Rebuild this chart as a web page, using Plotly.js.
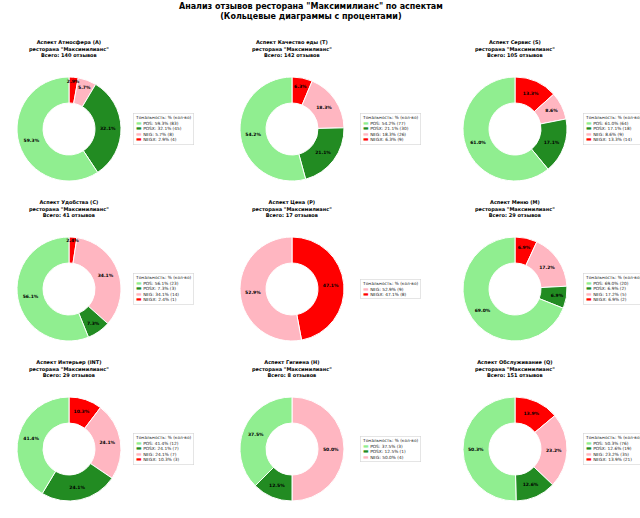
<!DOCTYPE html>
<html>
<head>
<meta charset="utf-8">
<script src="https://cdn.plot.ly/plotly-3.0.1.min.js"></script>
<style>
  html, body { margin: 0; padding: 0; background: #fff; }
  #chart { width: 640px; height: 518px; }
</style>
</head>
<body>
<div id="chart"></div>
<script>
// Review counts by sentiment for each aspect of the restaurant
const sentimentLabels = ['POS', 'POSX', 'NEG', 'NEGX'];
const sentimentColors = ['#90EE90', '#228B22', '#FFB6C1', '#FF0000'];

const aspectNames = [
  'Атмосфера (A)', 'Качество еды (T)', 'Сервис (S)',
  'Удобства (C)', 'Цена (P)', 'Меню (M)',
  'Интерьер (INT)', 'Гигиена (H)', 'Обслуживание (Q)'
];

// counts in order POS, POSX, NEG, NEGX
const countsAtmosphere = [83, 45, 8, 4];
const countsFood       = [77, 30, 26, 9];
const countsService    = [64, 18, 9, 14];
const countsFacilities = [23, 3, 14, 1];
const countsPrice      = [0, 0, 9, 8];
const countsMenu       = [20, 2, 5, 2];
const countsInterior   = [12, 7, 7, 3];
const countsHygiene    = [3, 1, 4, 0];
const countsStaff      = [76, 19, 35, 21];

const allCounts = [
  countsAtmosphere, countsFood, countsService,
  countsFacilities, countsPrice, countsMenu,
  countsInterior, countsHygiene, countsStaff
];

const restaurant = 'ресторана "Максимилианс"';
const legendTitle = 'Тональность: % (кол-во)';

// grid geometry (pixels)
const W = 640, H = 518;
const colCenters = [69, 292, 515];
const rowCenters = [129, 289, 449];
const legendLeft = [133, 360, 583];
const R = 52;
const FONT = 'DejaVu Sans, Liberation Sans, sans-serif';

const px = x => x / W;
const py = y => 1 - y / H;

const ringTraces = [];
const labelTraces = [];
const annotations = [];

allCounts.forEach((counts, i) => {
  const col = i % 3, row = Math.floor(i / 3);
  const cx = colCenters[col], cy = rowCenters[row];
  const labels = [], values = [], colors = [];
  counts.forEach((c, k) => {
    if (c > 0) {
      labels.push(sentimentLabels[k]);
      values.push(c);
      colors.push(sentimentColors[k]);
    }
  });
  const total = values.reduce((a, b) => a + b, 0);
  const domain = {
    x: [px(cx - R), px(cx + R)],
    y: [py(cy + R), py(cy - R)]
  };

  // slices run counterclockwise from 12 o'clock starting with POS,
  // i.e. clockwise from 12 o'clock in reversed order
  const base = {
    type: 'pie',
    labels: labels.slice().reverse(),
    values: values.slice().reverse(),
    sort: false,
    direction: 'clockwise',
    rotation: 0,
    hole: 0.5,
    hoverinfo: 'none',
    showlegend: false,
    domain: domain
  };

  // coloured ring
  ringTraces.push(Object.assign({}, base, {
    marker: { colors: colors.slice().reverse(), line: { color: '#ffffff', width: 1 } },
    textinfo: 'none'
  }));

  // transparent copy on top carrying the percentage labels,
  // so no slice covers the text of a neighbour
  labelTraces.push(Object.assign({}, base, {
    marker: { colors: labels.map(() => 'rgba(0,0,0,0)'), line: { width: 0 } },
    textposition: 'inside',
    insidetextorientation: 'horizontal',
    texttemplate: '<b>%{percent:.1%}</b>',
    textfont: { family: FONT, size: 4.5, color: '#000000' }
  }));

  // subplot heading
  annotations.push({
    xref: 'paper', yref: 'paper',
    x: px(cx), y: py(cy - 90),
    xanchor: 'center', yanchor: 'top',
    showarrow: false, borderpad: 0, borderwidth: 0,
    align: 'center',
    font: { family: FONT, size: 5, color: '#000000' },
    text: '<b>Аспект ' + aspectNames[i] + '<br>' + restaurant +
          '<br>Всего: ' + total + ' отзывов</b>'
  });

  // legend box
  const lines = [legendTitle];
  labels.forEach((lab, k) => {
    const pct = (values[k] / total * 100).toFixed(1);
    lines.push('<span style="color:' + colors[k] + ';font-size:6px">▬</span> ' +
               lab + ': ' + pct + '% (' + values[k] + ')');
  });
  annotations.push({
    xref: 'paper', yref: 'paper',
    x: px(legendLeft[col]), y: py(cy),
    xanchor: 'left', yanchor: 'middle',
    showarrow: false, align: 'left',
    bgcolor: '#ffffff', bordercolor: '#d4d4d4', borderwidth: 0.6, borderpad: 1.5,
    font: { family: FONT, size: 4.3, color: '#222222' },
    text: lines.join('<br>')
  });
});

// main heading
annotations.push({
  xref: 'paper', yref: 'paper',
  x: px(311), y: py(1.5),
  xanchor: 'center', yanchor: 'top',
  showarrow: false, borderpad: 0, borderwidth: 0,
  align: 'center',
  font: { family: FONT, size: 8, color: '#000000' },
  text: '<b>Анализ отзывов ресторана "Максимилианс" по аспектам<br>(Кольцевые диаграммы с процентами)</b>'
});

const layout = {
  width: W, height: H,
  margin: { l: 0, r: 0, t: 0, b: 0 },
  paper_bgcolor: '#ffffff',
  plot_bgcolor: '#ffffff',
  showlegend: false,
  uniformtext: { mode: 'show', minsize: 4.5 },
  annotations: annotations
};

Plotly.newPlot('chart', ringTraces.concat(labelTraces), layout,
               { displayModeBar: false, staticPlot: true });
</script>
</body>
</html>
